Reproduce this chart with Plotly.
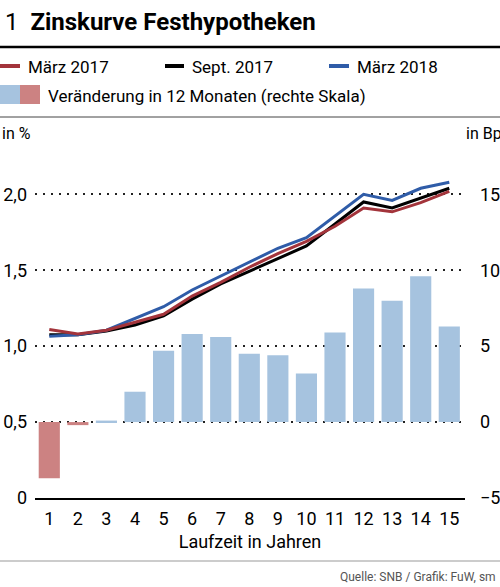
import plotly.graph_objects as go

# Laufzeit in Jahren
laufzeit = list(range(1, 16))

# Zinssätze in %
maerz_2017 = [1.11, 1.08, 1.105, 1.155, 1.21, 1.33, 1.42, 1.52, 1.61, 1.69, 1.79, 1.91, 1.885, 1.945, 2.02]
sept_2017 = [1.075, 1.075, 1.10, 1.14, 1.20, 1.31, 1.41, 1.495, 1.58, 1.66, 1.805, 1.95, 1.91, 1.975, 2.04]
maerz_2018 = [1.065, 1.075, 1.105, 1.18, 1.26, 1.37, 1.46, 1.555, 1.645, 1.715, 1.855, 2.0, 1.96, 2.04, 2.08]

# Veränderung in 12 Monaten, Basispunkte
veraenderung = [-3.7, -0.2, 0.1, 2.0, 4.7, 5.8, 5.6, 4.5, 4.4, 3.2, 5.9, 8.8, 8.0, 9.6, 6.3]

FONT = "Roboto, Liberation Sans, sans-serif"
W, H = 500, 587
ML, MR, MT, MB = 35, 35, 164, 89
PW, PH = W - ML - MR, H - MT - MB


def px(x):
    # pixel -> paper x
    return (x - ML) / PW


def py(y):
    # pixel -> paper y
    return 1 - (y - MT) / PH


RED = "#a3343b"
BLUE = "#2f5ca8"
BAR_BLUE = "#a6c3df"
BAR_RED = "#cc8282"

fig = go.Figure()

bar_colors = [BAR_RED if v < 0 else BAR_BLUE for v in veraenderung]
fig.add_trace(go.Bar(x=laufzeit, y=veraenderung, marker=dict(color=bar_colors, line=dict(width=0)),
                     yaxis="y", showlegend=False))

for name, vals, col in [("Sept. 2017", sept_2017, "black"),
                        ("März 2018", maerz_2018, BLUE),
                        ("März 2017", maerz_2017, RED)]:
    fig.add_trace(go.Scatter(x=laufzeit, y=vals, mode="lines", name=name,
                             line=dict(color=col, width=3), yaxis="y2", showlegend=False))

shapes = [
    dict(type="line", xref="paper", yref="paper", x0=px(0), x1=px(500), y0=py(47), y1=py(47),
         line=dict(color="black", width=2.5)),
    dict(type="line", xref="paper", yref="paper", x0=px(0), x1=px(500), y0=py(117), y1=py(117),
         line=dict(color="#444", width=1)),
    dict(type="line", xref="paper", yref="paper", x0=px(0), x1=px(500), y0=py(561), y1=py(561),
         line=dict(color="#999", width=1)),
    # legend samples
    dict(type="line", xref="paper", yref="paper", x0=px(0), x1=px(20), y0=py(66), y1=py(66),
         line=dict(color=RED, width=4)),
    dict(type="line", xref="paper", yref="paper", x0=px(165), x1=px(184), y0=py(66), y1=py(66),
         line=dict(color="black", width=4)),
    dict(type="line", xref="paper", yref="paper", x0=px(329), x1=px(349), y0=py(66), y1=py(66),
         line=dict(color=BLUE, width=4)),
    dict(type="rect", xref="paper", yref="paper", x0=px(0), x1=px(20), y0=py(104), y1=py(85),
         fillcolor=BAR_BLUE, line=dict(width=0)),
    dict(type="rect", xref="paper", yref="paper", x0=px(20), x1=px(40), y0=py(104), y1=py(85),
         fillcolor=BAR_RED, line=dict(width=0)),
]


def note(text, x, y, size=17, anchor="left", color="black"):
    return dict(text=text, xref="paper", yref="paper", x=px(x), y=py(y), xanchor=anchor,
                yanchor="middle", showarrow=False, font=dict(family=FONT, size=size, color=color))


annotations = [
    note("1  <b>Zinskurve Festhypotheken</b>", 3, 22, size=24),
    note("März 2017", 26, 67),
    note("Sept. 2017", 190, 67),
    note("März 2018", 355, 67),
    note("Veränderung in 12 Monaten (rechte Skala)", 46, 96),
    note("in %", 0, 133, size=16),
    note("in Bp.", 464, 133, size=16),
    note("Quelle: SNB / Grafik: FuW, sm", 498, 577, size=12, anchor="right", color="#555"),
]

fig.update_layout(
    width=W, height=H,
    margin=dict(l=ML, r=MR, t=MT, b=MB, pad=0),
    paper_bgcolor="white", plot_bgcolor="white",
    separators=",.",
    font=dict(family=FONT, size=18, color="black"),
    bargap=0.26,
    shapes=shapes,
    annotations=annotations,
    xaxis=dict(range=[0.5, 15.55], tickvals=laufzeit, showgrid=False, zeroline=False,
               showline=True, linecolor="black", linewidth=1.5, ticks="",
               ticklabelstandoff=4, automargin=False, tickfont=dict(size=18),
               title=dict(text="Laufzeit in Jahren", font=dict(size=18), standoff=7)),
    yaxis=dict(side="right", range=[-5, 17], tickvals=[-5, 0, 5, 10, 15],
               ticktext=["−5", "0", "5", "10", "15"], automargin=False,
               showgrid=True, gridcolor="#222", gridwidth=2, griddash="2px,6px",
               zeroline=False, showline=False, ticks="", ticklabelstandoff=14),
    yaxis2=dict(side="left", overlaying="y", range=[0, 2.2], tickvals=[0, 0.5, 1.0, 1.5, 2.0],
                ticktext=["0", "0,5", "1,0", "1,5", "2,0"], automargin=False,
                showgrid=False, zeroline=False, showline=False, ticks="", ticklabelstandoff=7),
)

# the browser's default 8px body margin would shift the figure
fig.write_html("out.html", config={"displayModeBar": False},
               post_script="document.body.style.margin = '0';")
